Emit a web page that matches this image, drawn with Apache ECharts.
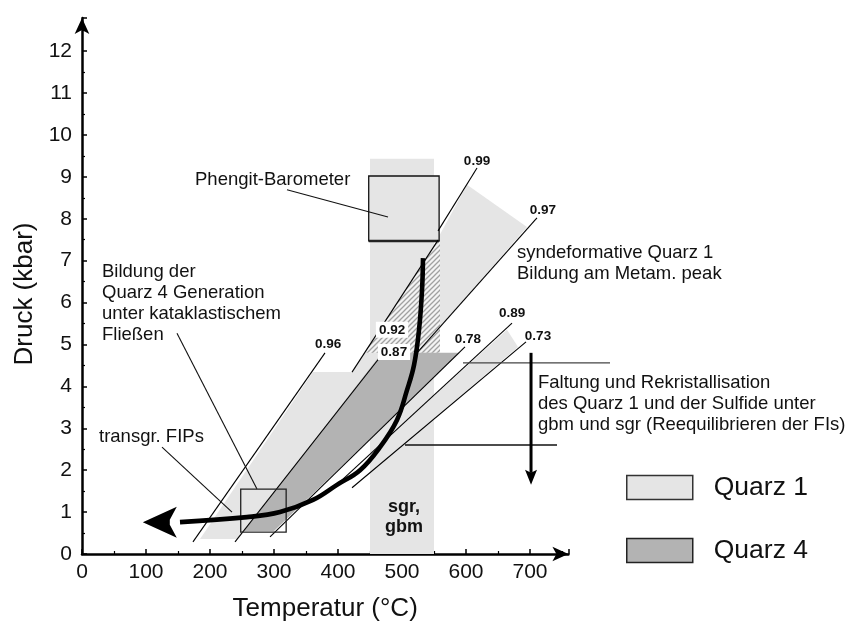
<!DOCTYPE html>
<html><head><meta charset="utf-8">
<script src="https://cdn.jsdelivr.net/npm/echarts@6/dist/echarts.min.js"></script>
<style>html,body{margin:0;padding:0;background:#fff}#c{width:854px;height:628px}</style>
</head><body><div id="c"></div>
<script>
// ---------------- data (T in °C, P in kbar) ----------------
const xTickLabels = [0,100,200,300,400,500,600,700];
const yTickLabels = [0,1,2,3,4,5,6,7,8,9,10,11,12];

// P-T path (thick curve) and its arrow tip
const pathT = [532.8,531.3,526.6,518.8,507.8,492.2,465.6,434.4,398.4,360.9,309.4,257.8,153.1];
const pathP = [7.06,6.30,5.35,4.51,3.91,3.20,2.55,2.00,1.65,1.29,1.00,0.88,0.76];
const pathArrowTip = [95, 0.76];

// sgr / gbm field
const sgrField = [[450,0],[550,0],[550,9.43],[450,9.43]];
// Quarz 1 fields
const quarz1Fields = [
  [[184.4,0.36],[360.9,4.34],[421.9,4.34],[440.6,4.80],[470.3,4.80],[242.2,0.36]],
  [[556.3,7.54],[601.6,8.81],[695.3,7.80],[559.4,5.42]],
  [[664.1,5.35],[681.3,4.94],[482.8,2.36],[448.4,2.36]]
];
const hatchedField = [[440.6,4.80],[556.3,7.49],[559.4,7.49],[559.4,4.80]];
// Quarz 4 field
const quarz4Field = [[253.1,0.55],[468.8,4.80],[590.6,4.80],[300.0,0.55]];
// boxes [ [Tmin,Pmin],[Tmax,Pmax] ]
const fipBox = [[248,0.52],[319,1.55]];
const phengitBox = [[448,7.47],[558,9.02]];

// isochores
const isoNames = ['0.99','0.97','0.96','0.92','0.87','0.78','0.89','0.73'];
const isoLines = [
  [[556.3,7.71],[617.2,9.21]],
  [[523.4,4.80],[710.9,8.02]],
  [[173.4,0.29],[379.7,4.80]],
  [[421.9,4.34],[556.3,7.49]],
  [[239.1,0.29],[478.1,4.94]],
  [[293.8,0.41],[598.4,4.94]],
  [[403.1,1.72],[671.9,5.51]],
  [[421.9,1.58],[693.8,5.06]]
];
const isoLabelPos = [[617.2,9.38],[720.3,8.21],[384.4,5.01],[484.4,5.35],[487.5,4.82],[603.1,5.13],[671.9,5.75],[712.5,5.20]];

// leader lines
const leaderLines = [
  [[320.3,8.69],[478.1,8.04]],
  [[148.4,5.27],[273.4,1.55]],
  [[125.0,2.55],[234.4,1.00]],
  [[595.3,4.56],[825.0,4.56]],
  [[504.7,2.60],[742.2,2.60]]
];
const faltungArrow = [[701.6,4.80],[701.6,1.65]];

// annotation texts
const annTexts = [
  'Phengit-Barometer',
  'Bildung der\nQuarz 4 Generation\nunter kataklastischem\nFließen',
  'transgr. FIPs',
  'syndeformative Quarz 1\nBildung am Metam. peak',
  'Faltung und Rekristallisation\ndes Quarz 1 und der Sulfide unter\ngbm und sgr (Reequilibrieren der FIs)',
  'sgr,\ngbm'
];
// ---------------- layout / style ----------------
const annAnchor = [[176.6,8.93],[31.25,6.98],[26.6,2.79],[679.7,7.43],[712.5,4.33],[503,1.36]];
const annStyle = [
  {align:'left', va:'middle', size:18.5, weight:'normal', lh:21},
  {align:'left', va:'top', size:18.5, weight:'normal', lh:21},
  {align:'left', va:'middle', size:18.5, weight:'normal', lh:21},
  {align:'left', va:'top', size:18.5, weight:'normal', lh:21},
  {align:'left', va:'top', size:18.5, weight:'normal', lh:21},
  {align:'center', va:'top', size:18, weight:'bold', lh:20}
];
const FONT = '"Liberation Sans", Arial, Helvetica, sans-serif';
const LIGHT = '#e5e5e5', DARK = '#b3b3b3';

function hatchPattern() {
  const c = document.createElement('canvas'); c.width = 5; c.height = 5;
  const g = c.getContext('2d');
  g.fillStyle = '#f3f3f3'; g.fillRect(0,0,5,5);
  g.strokeStyle = '#a0a0a0'; g.lineWidth = 1.3;
  g.beginPath();
  g.moveTo(0,5); g.lineTo(5,0);
  g.moveTo(-1,1); g.lineTo(1,-1);
  g.moveTo(4,6); g.lineTo(6,4);
  g.stroke();
  return c;
}

function polySeries(name, polys, style, z, extra) {
  return Object.assign({
    type:'custom', name, coordinateSystem:'cartesian2d', z, silent:true, clip:false,
    data: polys.map(p => p[0]),
    renderItem: (params, api) => ({
      type:'polygon',
      shape:{points: polys[params.dataIndex].map(p => api.coord(p))},
      style: Object.assign({}, style)
    })
  }, extra || {});
}
function lineSeries(name, lines, styles, z) {
  return {
    type:'custom', name, coordinateSystem:'cartesian2d', z, silent:true, clip:false,
    data: lines.map(l => l[0]),
    renderItem: (params, api) => ({
      type:'polyline',
      shape:{points: lines[params.dataIndex].map(p => api.coord(p))},
      style: Object.assign({fill:null}, typeof styles === 'function' ? styles(params.dataIndex) : styles)
    })
  };
}
function boxPoints(b) { return [[b[0][0],b[0][1]],[b[1][0],b[0][1]],[b[1][0],b[1][1]],[b[0][0],b[1][1]]]; }

const chart = echarts.init(document.getElementById('c'), null, {renderer:'canvas'});
const option = {
  animation:false,
  backgroundColor:'#fff',
  grid:{left:82, right:285.6, top:18, bottom:74},
  xAxis:{
    type:'value', min:0, max:760, interval:100,
    name:'Temperatur (°C)', nameLocation:'middle', nameGap:42,
    nameTextStyle:{fontSize:26, fontFamily:FONT, color:'#111'},
    axisLine:{show:true, symbol:['none','arrow'], symbolSize:[11,16], lineStyle:{color:'#000', width:2.5}},
    axisTick:{show:true, inside:true, length:5, lineStyle:{color:'#000', width:1.5}},
    minorTick:{show:true, splitNumber:2, length:3, lineStyle:{color:'#000', width:1.2}},
    splitLine:{show:false},
    axisLabel:{fontSize:21, fontFamily:FONT, color:'#111', margin:8, showMaxLabel:false,
      formatter: v => xTickLabels.includes(v) ? String(v) : ''}
  },
  yAxis:{
    type:'value', min:0, max:12.79, interval:1,
    name:'Druck (kbar)', nameLocation:'middle', nameGap:43,
    nameTextStyle:{fontSize:26, fontFamily:FONT, color:'#111', padding:[0,16,0,0]},
    axisLine:{show:true, symbol:['none','arrow'], symbolSize:[11,16], lineStyle:{color:'#000', width:2.5}},
    axisTick:{show:true, inside:true, length:5, lineStyle:{color:'#000', width:1.5}},
    minorTick:{show:true, splitNumber:2, length:3, lineStyle:{color:'#000', width:1.2}},
    splitLine:{show:false},
    axisLabel:{fontSize:21, fontFamily:FONT, color:'#111', margin:10, showMaxLabel:false,
      formatter: v => yTickLabels.includes(v) ? String(v) : ''}
  },
  legend:{
    orient:'vertical', left:621, top:469, itemWidth:66, itemHeight:24, itemGap:36,
    icon:'rect', selectedMode:false,
    textStyle:{fontSize:26.5, fontFamily:FONT, color:'#111', padding:[0,0,0,16]},
    data:[
      {name:'Quarz 1', itemStyle:{color:LIGHT, borderColor:'#333', borderWidth:1.5}},
      {name:'Quarz 4', itemStyle:{color:DARK, borderColor:'#222', borderWidth:1.5}}
    ]
  },
  series:[
    polySeries('sgr', [sgrField], {fill:LIGHT}, 1),
    polySeries('Quarz 1', quarz1Fields, {fill:LIGHT}, 2, {itemStyle:{color:LIGHT, borderColor:'#333', borderWidth:1.5}}),
    polySeries('hatch', [hatchedField], {fill:{image:hatchPattern(), repeat:'repeat'}}, 3),
    polySeries('Quarz 4', [quarz4Field], {fill:DARK}, 4, {itemStyle:{color:DARK, borderColor:'#222', borderWidth:1.5}}),
    polySeries('phengit', [boxPoints(phengitBox)], {fill:LIGHT, stroke:'#111', lineWidth:1.3}, 5),
    lineSeries('phengitBase', [[[phengitBox[0][0],phengitBox[0][1]],[phengitBox[1][0],phengitBox[0][1]]]], {stroke:'#222', lineWidth:2.6}, 6),
    lineSeries('iso', isoLines, {stroke:'#000', lineWidth:1.1}, 6),
    lineSeries('leaders', leaderLines, i => ({stroke: i === 3 ? '#444' : '#111', lineWidth: i >= 3 ? 1.4 : 1.1}), 6),
    polySeries('fipbox', [boxPoints(fipBox)], {fill:null, stroke:'#222', lineWidth:1.3}, 7),
    {
      type:'line', name:'path', z:8, silent:true, smooth:0.4, showSymbol:false, symbol:'none',
      data: pathT.map((t,i) => [t, pathP[i]]),
      lineStyle:{color:'#000', width:4.6}
    },
    {
      type:'custom', name:'pathArrow', coordinateSystem:'cartesian2d', z:9, silent:true, clip:false,
      data:[pathArrowTip],
      renderItem:(params, api) => {
        const t = api.coord(pathArrowTip);
        const rel = [[0,0],[34,-15.5],[27,-2.5],[27,2.5],[34,15.5]];
        return {type:'polygon', shape:{points: rel.map(r => [t[0]+r[0], t[1]+r[1]])}, style:{fill:'#000'}};
      }
    },
    {
      type:'custom', name:'faltungArrow', coordinateSystem:'cartesian2d', z:9, silent:true, clip:false,
      data:[faltungArrow[0]],
      renderItem:(params, api) => {
        const a = api.coord(faltungArrow[0]), b = api.coord(faltungArrow[1]);
        return {type:'group', children:[
          {type:'line', shape:{x1:a[0], y1:a[1], x2:b[0], y2:b[1]-12}, style:{stroke:'#000', lineWidth:3}},
          {type:'polygon', shape:{points:[[b[0],b[1]],[b[0]-6,b[1]-15],[b[0],b[1]-12],[b[0]+6,b[1]-15]]}, style:{fill:'#000'}}
        ]};
      }
    },
    {
      type:'custom', name:'isoLabels', coordinateSystem:'cartesian2d', z:10, silent:true, clip:false,
      data: isoLabelPos,
      renderItem:(params, api) => {
        const i = params.dataIndex, p = api.coord(isoLabelPos[i]);
        const boxed = (isoNames[i] === '0.92' || isoNames[i] === '0.87');
        return {type:'text', x:p[0], y:p[1], style:{
          text: isoNames[i], fontSize:13.5, fontWeight:'bold', fontFamily:FONT, fill:'#111',
          align:'center', verticalAlign:'middle',
          backgroundColor: boxed ? '#fff' : null, padding: boxed ? [1,3,1,3] : 0
        }};
      }
    },
    {
      type:'custom', name:'annotations', coordinateSystem:'cartesian2d', z:10, silent:true, clip:false,
      data: annAnchor,
      renderItem:(params, api) => {
        const i = params.dataIndex, p = api.coord(annAnchor[i]), s = annStyle[i];
        return {type:'text', x:p[0], y:p[1], style:{
          text: annTexts[i], fontSize:s.size, fontWeight:s.weight, fontFamily:FONT, fill:'#111',
          align:s.align, verticalAlign:s.va, lineHeight:s.lh
        }};
      }
    }
  ]
};
chart.setOption(option);
</script></body></html>
